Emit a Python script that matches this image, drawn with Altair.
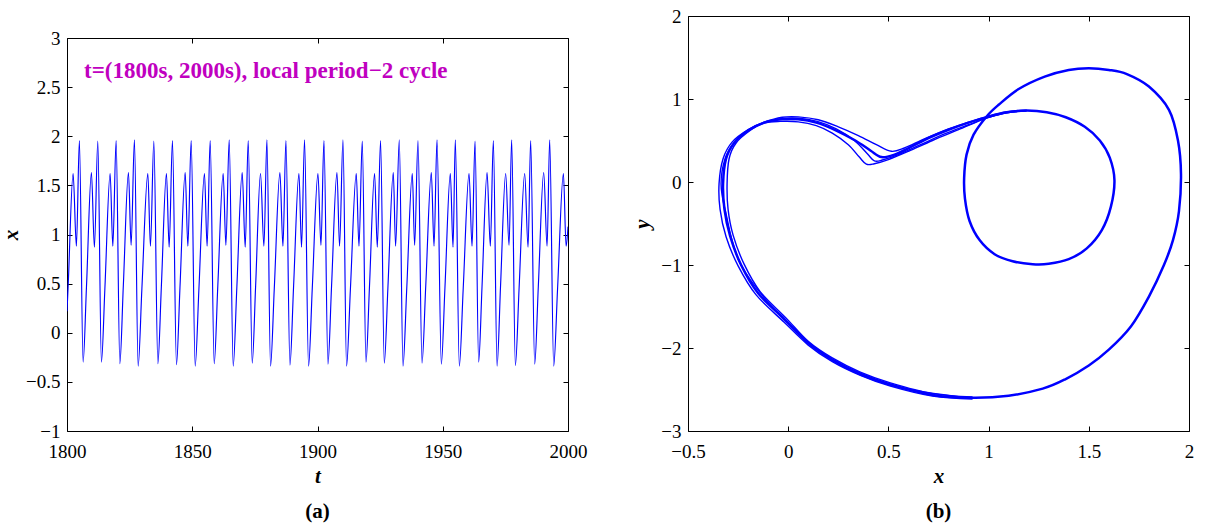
import altair as alt
import pandas as pd

FONT = "Liberation Serif"
BLUE = "#0000ff"
MAGENTA = "#c000c0"

# ---------------- panel (a): x(t), events ----------------
T_TICKS = [1800, 1850, 1900, 1950, 2000]
XA_TICKS = [-1, -0.5, 0, 0.5, 1, 1.5, 2, 2.5, 3]

t_start = [1800.0, 1800.45]
x_start = [0.22, 0.47]

t_min = [1806.43, 1813.74, 1821.09, 1828.40, 1836.27, 1843.70, 1851.17, 1858.76, 1866.35, 1873.94,
         1881.25, 1889.00, 1896.43, 1904.17, 1911.60, 1919.35, 1926.66, 1934.13, 1941.72, 1949.43,
         1956.62, 1964.33, 1971.68, 1978.99, 1986.70, 1994.29]
x_min = [-0.30, -0.30, -0.315, -0.34, -0.315, -0.325, -0.34, -0.315, -0.34, -0.31,
         -0.34, -0.33, -0.34, -0.32, -0.34, -0.30, -0.31, -0.34, -0.31, -0.32,
         -0.34, -0.30, -0.34, -0.335, -0.32, -0.34]
t_notch = [1807.78, 1815.14, 1822.49, 1829.90, 1837.67, 1845.10, 1852.67, 1860.21, 1867.80, 1875.29,
           1882.75, 1890.45, 1897.93, 1905.62, 1913.15, 1920.75, 1928.11, 1935.63, 1943.22, 1950.88,
           1958.17, 1965.68, 1973.08, 1980.49, 1988.15, 1995.84]
x_notch = [0.47, 0.46, 0.48, 0.45, 0.47, 0.46, 0.45, 0.48, 0.46, 0.47,
           0.45, 0.47, 0.46, 0.48, 0.45, 0.47, 0.46, 0.45, 0.48, 0.46,
           0.45, 0.47, 0.48, 0.46, 0.47, 0.45]
t_p1 = [1802.44, 1809.75, 1817.22, 1824.53, 1832.27, 1839.70, 1847.18, 1854.88, 1862.35, 1869.94,
        1877.25, 1885.00, 1892.59, 1900.18, 1907.77, 1915.48, 1922.79, 1930.26, 1937.85, 1945.44,
        1953.03, 1960.50, 1967.69, 1975.12, 1982.71, 1990.30, 1998.17]
x_p1 = [1.62, 1.63, 1.62, 1.63, 1.62, 1.62, 1.63, 1.62, 1.62, 1.63,
        1.62, 1.63, 1.62, 1.62, 1.63, 1.62, 1.62, 1.63, 1.62, 1.63,
        1.62, 1.62, 1.63, 1.62, 1.62, 1.63, 1.62]
t_tr = [1803.75, 1810.94, 1818.29, 1825.60, 1833.31, 1840.78, 1848.25, 1855.93, 1863.43, 1871.14,
        1878.61, 1886.20, 1893.63, 1901.38, 1908.81, 1916.56, 1923.87, 1931.18, 1938.77, 1946.52,
        1954.10, 1961.69, 1969.00, 1976.47, 1984.06, 1991.65, 1999.24]
x_tr = [0.88, 0.87, 0.88, 0.89, 0.88, 0.87, 0.88, 0.88, 0.89, 0.87,
        0.88, 0.88, 0.87, 0.89, 0.88, 0.88, 0.87, 0.88, 0.89, 0.88,
        0.87, 0.88, 0.88, 0.89, 0.87, 0.88, 0.88]
t_p2 = [1804.95, 1812.30, 1819.61, 1826.92, 1834.67, 1842.10, 1849.57, 1857.16, 1864.75, 1872.34,
        1879.81, 1887.40, 1894.83, 1902.58, 1910.17, 1917.87, 1925.18, 1932.65, 1940.12, 1947.71,
        1955.02, 1962.89, 1970.20, 1977.51, 1985.10, 1992.69]
x_p2 = [1.957, 1.950, 1.957, 1.964, 1.950, 1.957, 1.957, 1.957, 1.964, 1.957,
        1.964, 1.957, 1.964, 1.957, 1.964, 1.950, 1.957, 1.964, 1.957, 1.964,
        1.964, 1.950, 1.957, 1.964, 1.957, 1.964]
t_end = [2000.0]
x_end = [1.08]

ANN_T = [1806.8]
ANN_X = [2.66]
ANN_TEXT = ["t=(1800s, 2000s), local period\u22122 cycle"]

# ---------------- panel (b): phase portrait (x, y) ----------------
XB_TICKS = [-0.5, 0, 0.5, 1, 1.5, 2]
YB_TICKS = [-3, -2, -1, 0, 1, 2]

main_x = [-0.325, -0.31, -0.27, -0.20, -0.12, -0.03, 0.05, 0.14, 0.24, 0.335, 0.41, 0.465, 0.53, 0.61,
          0.70, 0.80, 0.90, 0.995, 1.09, 1.19, 1.29, 1.385, 1.48, 1.555, 1.605, 1.628, 1.61, 1.565,
          1.49, 1.40, 1.30, 1.22, 1.12, 1.03, 0.955, 0.905, 0.882, 0.878, 0.89, 0.925, 0.99, 1.05,
          1.15, 1.28, 1.40, 1.50, 1.60, 1.69, 1.80, 1.90, 1.945, 1.96, 1.95, 1.92, 1.875, 1.80,
          1.71, 1.60, 1.50, 1.38, 1.27, 1.10, 0.92, 0.72, 0.51, 0.36, 0.22, 0.10, -0.015, -0.15,
          -0.235, -0.29, -0.318]
main_y = [-0.02, 0.28, 0.47, 0.62, 0.715, 0.755, 0.755, 0.715, 0.62, 0.50, 0.38, 0.30, 0.33, 0.42,
          0.53, 0.63, 0.715, 0.785, 0.84, 0.86, 0.84, 0.78, 0.665, 0.50, 0.29, 0.02, -0.30, -0.58,
          -0.80, -0.93, -0.985, -0.99, -0.955, -0.87, -0.70, -0.47, -0.20, 0.05, 0.33, 0.57, 0.79, 0.93,
          1.12, 1.27, 1.35, 1.37, 1.35, 1.30, 1.15, 0.87, 0.50, 0.10, -0.35, -0.70, -1.00, -1.38,
          -1.74, -2.02, -2.21, -2.38, -2.49, -2.575, -2.60, -2.565, -2.44, -2.31, -2.14, -1.94, -1.66, -1.34,
          -1.00, -0.65, -0.33]

s1_x = [0.92, 0.72, 0.51, 0.36, 0.22, 0.10, -0.02, -0.16, -0.25, -0.31, -0.34, -0.345, -0.325, -0.28,
        -0.20, -0.12, -0.03, 0.05, 0.15, 0.25, 0.35, 0.44, 0.515, 0.58, 0.68, 0.80, 0.90, 0.995, 1.09, 1.19]
s1_y = [-2.615, -2.58, -2.46, -2.33, -2.165, -1.965, -1.69, -1.36, -1.01, -0.66, -0.33, -0.02, 0.28, 0.48,
        0.63, 0.72, 0.78, 0.785, 0.75, 0.665, 0.56, 0.45, 0.37, 0.41, 0.52, 0.64, 0.72, 0.79, 0.845, 0.865]
s2_x = [0.92, 0.72, 0.51, 0.36, 0.22, 0.10, -0.01, -0.14, -0.22, -0.275, -0.30, -0.305, -0.295, -0.26,
        -0.19, -0.12, -0.04, 0.05, 0.14, 0.22, 0.30, 0.355, 0.39, 0.43, 0.50, 0.60, 0.72, 0.85, 0.99, 1.09, 1.19]
s2_y = [-2.59, -2.55, -2.42, -2.29, -2.12, -1.92, -1.64, -1.32, -0.99, -0.64, -0.33, -0.02, 0.28, 0.47,
        0.62, 0.71, 0.73, 0.725, 0.68, 0.59, 0.45, 0.30, 0.215, 0.22, 0.27, 0.37, 0.50, 0.63, 0.77, 0.835, 0.855]
s3_x = [0.92, 0.51, 0.22, -0.015, -0.235, -0.315, -0.335, -0.315, -0.27, -0.20, -0.12, -0.03, 0.05,
        0.145, 0.24, 0.33, 0.395, 0.43, 0.47, 0.55, 0.66, 0.78, 0.90, 0.995, 1.09, 1.19]
s3_y = [-2.605, -2.45, -2.15, -1.675, -1.0, -0.33, -0.02, 0.28, 0.475, 0.625, 0.715, 0.765, 0.77,
        0.73, 0.64, 0.50, 0.34, 0.255, 0.265, 0.33, 0.45, 0.58, 0.69, 0.775, 0.835, 0.86]

# ---------------- tables ----------------
pairs = []
for ts_, xs_ in [(t_start, x_start), (t_min, x_min), (t_notch, x_notch), (t_p1, x_p1),
                 (t_tr, x_tr), (t_p2, x_p2), (t_end, x_end)]:
    pairs += list(zip(ts_, xs_))
pairs.sort()
ts_df = pd.DataFrame(pairs, columns=["t", "x"])
ann_df = pd.DataFrame({"t": ANN_T, "x": ANN_X, "label": ANN_TEXT})

main_df = pd.DataFrame({"x": main_x, "y": main_y, "i": range(len(main_x))})
strand_rows = []
for name, sx, sy in [("s1", s1_x, s1_y), ("s2", s2_x, s2_y), ("s3", s3_x, s3_y)]:
    for i, (a, b) in enumerate(zip(sx, sy)):
        strand_rows.append((name, i, a, b))
strand_df = pd.DataFrame(strand_rows, columns=["s", "i", "x", "y"])

# ---------------- axis helpers ----------------
LABEL_AX = dict(labelFont=FONT, labelFontSize=19, labelColor="black", labelFlush=False,
                ticks=False, tickSize=0, domain=False, grid=False, titleFont=FONT, titleFontSize=21,
                titleFontStyle="italic", titleFontWeight="bold", titleColor="black")


def tick_axis(orient, vals):
    return alt.Axis(orient=orient, values=vals, labels=False, domain=False, grid=False, ticks=True,
                    tickSize=5, offset=-5, tickColor="black", tickWidth=1, title=None)


def panel(base, xf, yf, xs, ys, xvals, yvals, xtitle, ytitle, xfmt, yfmt, ytp):
    lab = base.encode(
        x=alt.X(xf, scale=xs, axis=alt.Axis(values=xvals, format=xfmt, title=xtitle, labelPadding=11,
                                             titlePadding=4, **LABEL_AX)),
        y=alt.Y(yf, scale=ys, axis=alt.Axis(values=yvals, format=yfmt, title=ytitle, labelPadding=7,
                                             titlePadding=ytp, **LABEL_AX)),
    )
    t1 = base.mark_point(opacity=0).encode(
        x=alt.X(xf, scale=xs, axis=tick_axis("bottom", xvals)),
        y=alt.Y(yf, scale=ys, axis=tick_axis("left", yvals)),
    )
    t2 = base.mark_point(opacity=0).encode(
        x=alt.X(xf, scale=xs, axis=tick_axis("top", xvals)),
        y=alt.Y(yf, scale=ys, axis=tick_axis("right", yvals)),
    )
    return lab, t1, t2


def sub_title(txt):
    return alt.TitleParams(txt, orient="bottom", anchor="middle", frame="group", font=FONT,
                           fontSize=21, fontWeight="bold", color="black", offset=15)


# ---------------- panel (a) ----------------
xa = alt.Scale(domain=[1800, 2000], nice=False, zero=False)
ya = alt.Scale(domain=[-1, 3], nice=False, zero=False)
base_a = alt.Chart(ts_df).mark_line(color=BLUE, strokeWidth=1.15, interpolate="monotone", clip=True)
la, ta1, ta2 = panel(base_a, "t:Q", "x:Q", xa, ya, T_TICKS, XA_TICKS, "t", "x", "d", "~g", 4)
ann = alt.Chart(ann_df).mark_text(align="left", baseline="middle", font=FONT, fontSize=23,
                                  fontWeight="bold", color=MAGENTA).encode(
    x=alt.X("t:Q", scale=xa, axis=None), y=alt.Y("x:Q", scale=ya, axis=None), text="label:N")
panel_a = alt.layer(la, ta1, ta2, ann).resolve_axis(x="independent", y="independent").properties(
    width=501, height=393, title=sub_title("(a)"))

# ---------------- panel (b) ----------------
xb = alt.Scale(domain=[-0.5, 2], nice=False, zero=False)
yb = alt.Scale(domain=[-3, 2], nice=False, zero=False)
base_b = alt.Chart(main_df).mark_line(color=BLUE, strokeWidth=2.5, interpolate="cardinal-closed").encode(
    order="i:Q")
lb, tb1, tb2 = panel(base_b, "x:Q", "y:Q", xb, yb, XB_TICKS, YB_TICKS, "x", "y", "~g", "~g", 8)
strands = alt.Chart(strand_df).mark_line(color=BLUE, strokeWidth=1.4, interpolate="cardinal").encode(
    x=alt.X("x:Q", scale=xb, axis=None), y=alt.Y("y:Q", scale=yb, axis=None),
    detail="s:N", order="i:Q")
panel_b = alt.layer(lb, strands, tb1, tb2).resolve_axis(x="independent", y="independent").properties(
    width=501, height=415, title=sub_title("(b)"))

spacer = alt.Chart(pd.DataFrame({"k": [0]})).mark_rect(opacity=0).encode(
    x=alt.value(0), x2=alt.value(500), y=alt.value(0), y2=alt.value(12)
).properties(width=500, height=12, view=alt.ViewBackground(stroke=None))

left = alt.vconcat(spacer, panel_a, spacing=0)

chart = alt.hconcat(left, panel_b, spacing=43).properties(
    padding={"left": 0, "top": 6, "right": 5, "bottom": 0}, background="white"
).configure_view(stroke="black", strokeWidth=1)

chart.save("out.html", embed_options={"renderer": "svg", "actions": False})
